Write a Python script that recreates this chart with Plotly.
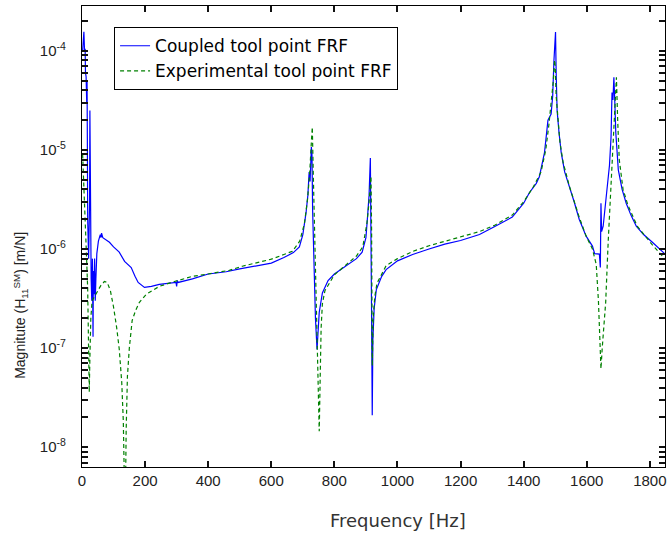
import plotly.graph_objects as go

# Coupled tool point FRF (blue, solid)
coupled_freq = [2, 6, 8, 10, 11, 13, 15, 16, 17, 18, 21, 24, 25, 26, 27, 29, 31, 33, 35, 36, 38, 40, 42, 44, 47,
                52, 58, 60, 62, 66, 75, 87, 100, 118, 135, 156, 168, 178, 198, 220, 245, 275, 298, 300, 302, 305,
                350, 400, 457, 500, 550, 600, 640, 670, 689, 700, 710, 716, 720, 723, 727, 729, 731, 735, 740, 745,
                748, 752, 762, 780, 800, 837, 870, 888, 900, 905, 910, 914, 916, 918, 920, 922, 926, 933, 950, 964,
                1000, 1048, 1100, 1150, 1200, 1260, 1310, 1364, 1400, 1418, 1440, 1450, 1466, 1477, 1487, 1492,
                1496, 1499, 1501, 1503, 1506, 1512, 1519, 1530, 1545, 1560, 1576, 1598, 1618, 1625, 1640, 1643,
                1645, 1647, 1652, 1658, 1665, 1672, 1677, 1680, 1683, 1686, 1689, 1692, 1700, 1712, 1725, 1740,
                1757, 1780, 1808, 1830, 1855]
coupled_mag = [1.0e-4, 1.56e-4, 1.0e-4, 1.05e-4, 6e-5, 5.5e-5, 3e-5, 5e-5, 1.3e-5, 2e-6, 8e-7, 3e-6, 2.5e-5, 1e-5,
               1e-6, 5e-7, 3e-7, 8e-7, 1.3e-7, 6e-7, 3.5e-7, 8e-7, 3e-7, 5e-7, 9e-7,
               1.2e-6, 1.4e-6, 1.3e-6, 1.45e-6, 1.3e-6, 1.25e-6, 1.17e-6, 1.05e-6, 9.3e-7, 7.5e-7, 6.5e-7, 5.3e-7,
               4.6e-7, 4.1e-7, 4.2e-7, 4.4e-7, 4.5e-7, 4.6e-7, 4.2e-7, 4.8e-7, 4.6e-7,
               5.0e-7, 5.6e-7, 5.9e-7, 6.3e-7, 6.7e-7, 7.2e-7, 8.2e-7, 9.2e-7, 1.05e-6, 1.4e-6, 2.3e-6, 3.5e-6,
               6e-6, 4.8e-6, 1.07e-5, 9e-6, 2.5e-6, 6e-7, 2e-7, 9.7e-8,
               1.5e-7, 2.3e-7, 3.6e-7, 4.8e-7, 5.6e-7, 6.7e-7, 8e-7, 9.3e-7, 1.3e-6, 2.1e-6, 3.5e-6, 8.3e-6, 2e-6,
               2e-7, 2.1e-8, 1.2e-7, 2.5e-7, 3.9e-7, 5.3e-7, 6.2e-7,
               7.6e-7, 8.8e-7, 1.0e-6, 1.12e-6, 1.22e-6, 1.4e-6, 1.7e-6, 2.1e-6, 2.9e-6, 3.7e-6, 4.6e-6, 5.4e-6,
               9.4e-6, 2.0e-5, 2.3e-5, 3.5e-5,
               8e-5, 1.5e-4, 1.55e-4, 6e-5, 2.5e-5, 1.5e-5, 9.4e-6, 6e-6, 4.3e-6, 3e-6, 2e-6, 1.35e-6, 1.07e-6,
               9e-7, 8.9e-7, 6.5e-7,
               2.9e-6, 1.5e-6, 1.7e-6, 2.5e-6, 4.3e-6, 7e-6, 1.35e-5, 3.8e-5, 3.2e-5, 5.4e-5, 3e-5, 1.5e-5,
               6.3e-6, 4e-6, 2.9e-6, 2.2e-6,
               1.7e-6, 1.4e-6, 1.17e-6, 1e-6, 8.5e-7]

# Experimental tool point FRF (green, dashed)
exp_freq = [2, 4, 7, 10, 14, 18, 21, 23, 25, 28, 32, 40, 50, 60, 71, 80, 90, 100, 110, 118, 126, 131, 134, 137,
            140, 144, 150, 159, 170, 182, 204, 245, 293, 350, 400, 467, 508, 550, 600, 640, 667, 690, 705, 715,
            722, 727, 730, 733, 738, 742, 747, 750, 752, 755, 758, 762, 770, 800, 837, 870, 890, 903, 910, 916,
            918, 920, 923, 928, 935, 964, 1000, 1050, 1100, 1150, 1200, 1260, 1310, 1364, 1400, 1430, 1455, 1470,
            1480, 1488, 1494, 1498, 1500, 1503, 1508, 1515, 1525, 1545, 1576, 1598, 1618, 1630, 1637, 1642, 1645,
            1649, 1655, 1660, 1668, 1677, 1684, 1688, 1694, 1698, 1703, 1715, 1730, 1760, 1808, 1855]
exp_mag = [9e-6, 6.5e-6, 3e-6, 2e-6, 9e-7, 4e-7, 1.2e-7, 3.6e-8, 8e-8, 2e-7, 3e-7, 3.3e-7, 3.8e-7, 4.3e-7, 4.7e-7,
           4.6e-7, 3.8e-7, 2.6e-7, 1.6e-7, 9.8e-8, 4.5e-8, 1.8e-8, 5e-9, 2e-9,
           1.5e-8, 5.2e-8, 1.0e-7, 1.9e-7, 2.4e-7, 2.9e-7, 3.5e-7, 4.2e-7, 4.7e-7, 5.3e-7, 5.6e-7, 6.1e-7, 6.7e-7,
           7.2e-7, 7.9e-7, 8.8e-7, 9.5e-7, 1.2e-6, 1.8e-6, 3.2e-6,
           6e-6, 1.2e-5, 1.7e-5, 6e-6, 1.2e-6, 3e-7, 8e-8, 3e-8, 1.45e-8, 5e-8, 1.6e-7, 2.8e-7, 3.8e-7, 5.5e-7,
           7e-7, 8.5e-7, 1.05e-6, 1.8e-6, 3e-6, 5.4e-6,
           1.5e-6, 6.6e-8, 2e-7, 3.3e-7, 4.5e-7, 6.8e-7, 8e-7, 9.5e-7, 1.08e-6, 1.2e-6, 1.32e-6, 1.5e-6, 1.75e-6,
           2.2e-6, 3e-6, 4.2e-6, 6e-6, 1e-5,
           1.8e-5, 3e-5, 5e-5, 8.1e-5, 7e-5, 3.5e-5, 2.2e-5, 1.2e-5, 7.5e-6, 4.3e-6, 2.1e-6, 1.35e-6, 1.0e-6, 7e-7,
           3e-7, 1.1e-7, 6.2e-8,
           1e-7, 1.8e-7, 2.9e-7, 1.2e-6, 5e-6, 1.5e-5, 2.5e-5, 5.4e-5, 2e-5, 8e-6, 4e-6, 2.8e-6, 1.7e-6, 1.1e-6,
           7.5e-7]

x_ticks = [0, 200, 400, 600, 800, 1000, 1200, 1400, 1600, 1800]
y_decades = [-8, -7, -6, -5, -4]
y_decade_labels = ["10<sup>-8</sup>", "10<sup>-7</sup>", "10<sup>-6</sup>", "10<sup>-5</sup>", "10<sup>-4</sup>"]
y_minor_mult = [2, 3, 4, 5, 6, 7, 8, 9]

# y tick positions: decades labelled, 2..9 multiples unlabelled
y_tickvals, y_ticktext = [], []
for d, lab in zip([-9] + y_decades, [""] + y_decade_labels):
    if d >= -8:
        y_tickvals.append(10.0 ** d)
        y_ticktext.append(lab)
    for m in y_minor_mult:
        y_tickvals.append(m * 10.0 ** d)
        y_ticktext.append("")

X_RANGE = [0, 1848]
Y_RANGE = [-8.2, -3.547]

fig = go.Figure()
fig.add_trace(go.Scatter(x=coupled_freq, y=coupled_mag, mode="lines",
                         name="Coupled tool point FRF",
                         line=dict(color="#0000ff", width=1.2)))
fig.add_trace(go.Scatter(x=exp_freq, y=exp_mag, mode="lines",
                         name="Experimental tool point FRF",
                         line=dict(color="#008000", width=1.2, dash="4px,3px")))

axis_common = dict(showline=True, linecolor="black", linewidth=1.3, mirror="allticks",
                   ticks="inside", ticklen=6, tickwidth=1.6, tickcolor="#111111",
                   showgrid=False, zeroline=False, automargin=False, layer="above traces",
                   tickfont=dict(family="Liberation Sans, Arial", size=15, color="#222"))

fig.update_layout(
    width=669, height=534,
    margin=dict(l=82, r=4, t=6, b=67),
    plot_bgcolor="white", paper_bgcolor="white",
    showlegend=True,
    xaxis=dict(range=X_RANGE, tickvals=x_ticks, **axis_common),
    yaxis=dict(type="log", range=Y_RANGE, tickvals=y_tickvals, ticktext=y_ticktext,
               ticklabelstandoff=12, **axis_common),
    legend=dict(x=0.055, y=0.954, xanchor="left", yanchor="top",
                bordercolor="black", borderwidth=1, bgcolor="white",
                font=dict(family="DejaVu Sans", size=17, color="black"),
                tracegroupgap=0),
    annotations=[
        dict(text="Frequency [Hz]", xref="paper", yref="paper", x=0.542, y=-0.117,
             xanchor="center", yanchor="middle", showarrow=False,
             font=dict(family="DejaVu Sans", size=18, color="#333")),
        dict(text="Magnitute (H<sub>11</sub><sup>SM</sup>) [m/N]", xref="paper", yref="paper",
             x=-0.106, y=0.35, xanchor="center", yanchor="middle", textangle=-90, showarrow=False,
             font=dict(family="Liberation Sans, Arial", size=14, color="#222")),
    ],
)

fig.write_html("out.html", config={"displayModeBar": False},
               post_script="document.body.style.margin='0';document.body.style.padding='0';")
